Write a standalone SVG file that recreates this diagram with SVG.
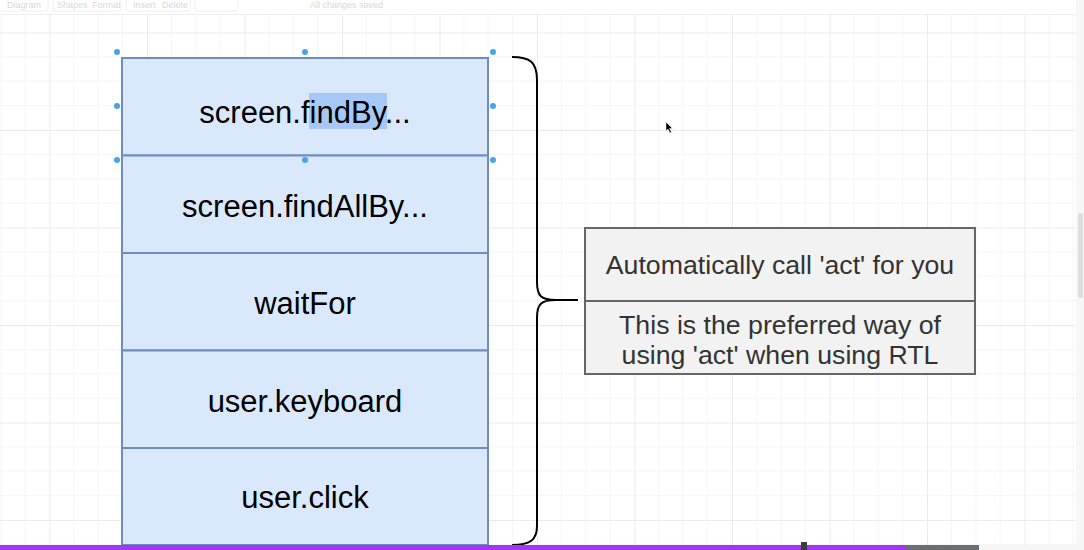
<svg xmlns="http://www.w3.org/2000/svg" width="1084" height="550" viewBox="0 0 1084 550">
<style>
.stack{fill:#dae8fc;stroke:#6c8ebf;stroke-width:2}
.note{fill:#f2f2f2;stroke:#666666;stroke-width:2}
.lt{font-family:"Liberation Sans",Arial,Helvetica,sans-serif;font-size:31px;fill:#000;text-anchor:middle}
.rt{font-family:"Liberation Sans",Arial,Helvetica,sans-serif;font-size:26.7px;fill:#333;text-anchor:middle}
.tb{font-family:"Liberation Sans",Arial,sans-serif;font-size:9px;fill:#d9d9d9}
.handle{fill:#4aa3ea}
</style>
<defs>
<pattern id="grid" patternUnits="userSpaceOnUse" x="49.5" y="32.5" width="97.5" height="97.5">
<path d="M24.375 0V97.5M48.75 0V97.5M73.125 0V97.5M0 24.375H97.5M0 48.75H97.5M0 73.125H97.5" stroke="#f6f6f6" stroke-width="1" fill="none"/>
<path d="M0.5 0V97.5M0 0.5H97.5" stroke="#ebebeb" stroke-width="1" fill="none"/>
</pattern>
</defs>
<rect x="0" y="0" width="1084" height="550" fill="#ffffff"/>
<rect x="0" y="14" width="1076" height="531" fill="url(#grid)"/>
<g id="toolbar">
<path d="M0 14.5H1076" stroke="#eeeeee" stroke-width="1"/>
<rect x="-4" y="-6" width="52" height="17" rx="3" fill="none" stroke="#eeeeee"/>
<rect x="53" y="-6" width="68" height="17" rx="3" fill="none" stroke="#eeeeee"/>
<rect x="126" y="-6" width="64" height="17" rx="3" fill="none" stroke="#eeeeee"/>
<rect x="195" y="-6" width="43" height="17" rx="3" fill="none" stroke="#eeeeee"/>
<text class="tb" x="7" y="8">Diagram</text>
<text class="tb" x="57" y="8">Shapes</text>
<text class="tb" x="92" y="8">Format</text>
<text class="tb" x="133" y="8">Insert</text>
<text class="tb" x="162" y="8">Delete</text>
<text class="tb" x="310" y="8">All changes saved</text>
</g>
<g id="scrollbar">
<rect x="1076" y="0" width="8" height="545" fill="#f7f7f7"/>
<rect x="1078" y="213" width="5" height="85" rx="2" fill="#dedede"/>
</g>
<g id="connectors">
<path d="M512 57 C530 57 537 62 537 80 L537 282 C537 296 541 300 556 300 L578 300 M556 300 C541 300 537 304 537 318 L537 526 C537 540 530 545 512 545" fill="none" stroke="#000" stroke-width="2"/>
</g>
<g id="node-findBy">
<rect class="stack" x="122" y="58" width="366" height="97.5"/>
<rect x="309" y="93" width="78" height="36" fill="#a6c8f7"/>
<text class="lt" x="305" y="123">screen.findBy...</text>
</g>
<g id="node-findAllBy">
<rect class="stack" x="122" y="155.5" width="366" height="97.5"/>
<text class="lt" x="305" y="217">screen.findAllBy...</text>
</g>
<g id="node-waitFor">
<rect class="stack" x="122" y="253" width="366" height="97.5"/>
<text class="lt" x="305" y="313.5">waitFor</text>
</g>
<g id="node-keyboard">
<rect class="stack" x="122" y="350.5" width="366" height="97.5"/>
<text class="lt" x="305" y="412">user.keyboard</text>
</g>
<g id="node-click">
<rect class="stack" x="122" y="448" width="366" height="97"/>
<text class="lt" x="305" y="508">user.click</text>
</g>
<g id="selection">
<circle class="handle" cx="117" cy="52" r="3"/>
<circle class="handle" cx="305" cy="52" r="3"/>
<circle class="handle" cx="493" cy="52" r="3"/>
<circle class="handle" cx="117" cy="106" r="3"/>
<circle class="handle" cx="493" cy="106" r="3"/>
<circle class="handle" cx="117" cy="160" r="3"/>
<circle class="handle" cx="305" cy="160" r="3"/>
<circle class="handle" cx="493" cy="160" r="3"/>
</g>
<g id="node-auto">
<rect class="note" x="585" y="228" width="390" height="73"/>
<text class="rt" x="780" y="273.5">Automatically call 'act' for you</text>
</g>
<g id="node-preferred">
<rect class="note" x="585" y="301" width="390" height="73"/>
<text class="rt" x="780" y="333.5">This is the preferred way of</text>
<text class="rt" x="780" y="363.5">using 'act' when using RTL</text>
</g>
<path d="M666 122 L666 131 L668 129 L670 133 L671.5 132.3 L669.6 128.5 L672.5 128.5 Z" fill="#000" stroke="#fff" stroke-width="0.5"/>
<g id="progress">
<rect x="0" y="545" width="1084" height="5" fill="#f5f5f5"/>
<rect x="0" y="545" width="905" height="5" fill="#a435f0"/>
<rect x="905" y="545" width="74" height="5" fill="#6a6f73"/>
<rect x="801" y="542" width="6" height="8" fill="#3a3d40"/>
</g>
</svg>
